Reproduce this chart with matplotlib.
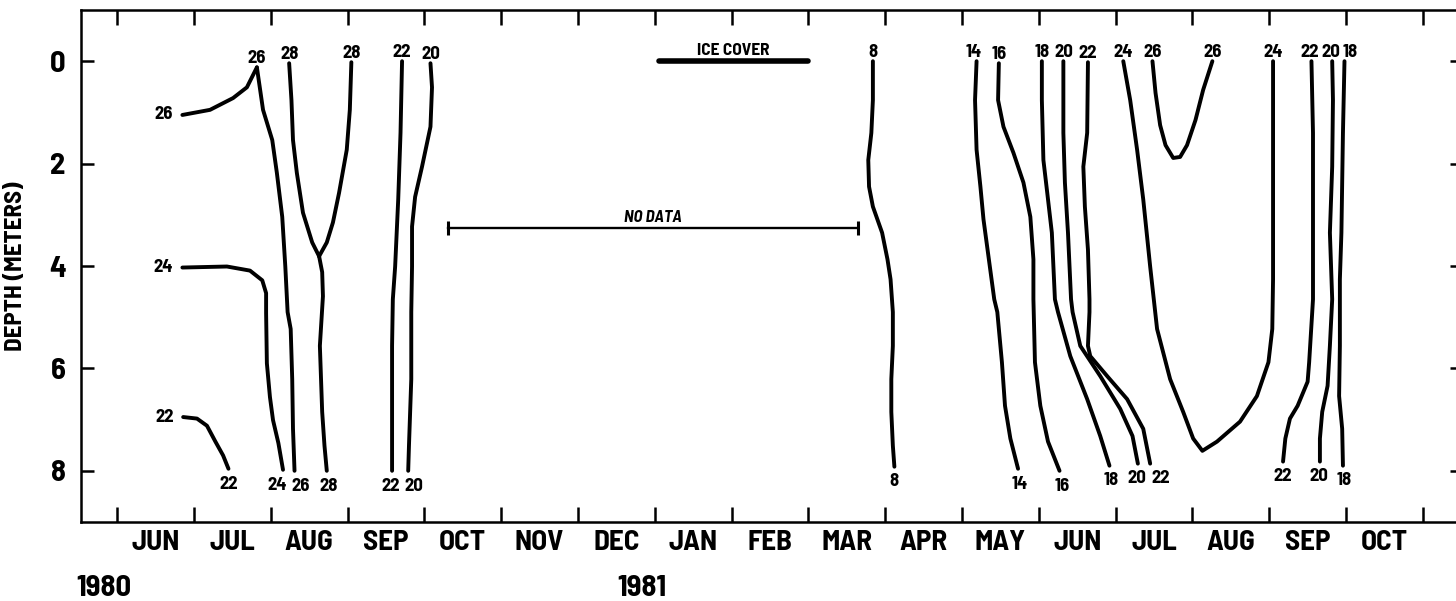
import matplotlib
matplotlib.use('Agg')
import matplotlib.pyplot as plt
import matplotlib.transforms as mtransforms

plt.rcParams['font.family'] = ['Barlow Semi Condensed', 'DejaVu Sans']
plt.rcParams['font.weight'] = 'bold'

# time axis: months after 1 June 1980 (one unit per month), depth in meters
months = ['JUN', 'JUL', 'AUG', 'SEP', 'OCT', 'NOV', 'DEC', 'JAN', 'FEB',
          'MAR', 'APR', 'MAY', 'JUN', 'JUL', 'AUG', 'SEP', 'OCT']
years = ['1980', '1981']
year_start = [0, 7]
depth_ticks = [0, 2, 4, 6, 8]

# ---- 1980 isotherms (deg C) ----
t26a = [0.85, 1.21, 1.51, 1.69, 1.82]
z26a = [1.05, 0.95, 0.72, 0.51, 0.12]
t26b = [1.82, 1.90, 2.02, 2.08, 2.15, 2.19, 2.22, 2.26, 2.28, 2.29, 2.31]
z26b = [0.12, 0.95, 1.54, 2.18, 3.04, 4.01, 4.90, 5.23, 6.21, 7.18, 8.0]
t24a = [0.85, 1.43, 1.73, 1.89, 1.94, 1.94, 1.95, 1.99, 2.03, 2.10, 2.16]
z24a = [4.03, 4.01, 4.09, 4.28, 4.53, 4.92, 5.90, 6.56, 7.01, 7.46, 7.98]
t22a = [0.86, 1.04, 1.17, 1.28, 1.38, 1.45]
z22a = [6.95, 6.98, 7.12, 7.43, 7.70, 7.96]
t28a = [2.24, 2.27, 2.29, 2.34, 2.42, 2.54, 2.63]
z28a = [0.04, 0.76, 1.54, 2.18, 2.96, 3.54, 3.81]
t28b = [3.05, 3.03, 2.99, 2.89, 2.81, 2.73, 2.63]
z28b = [0.02, 0.95, 1.73, 2.57, 3.15, 3.54, 3.81]
t28c = [2.63, 2.67, 2.68, 2.64, 2.67, 2.70, 2.73]
z28c = [3.81, 4.12, 4.59, 5.56, 6.85, 7.51, 8.0]
t22b = [3.71, 3.69, 3.66, 3.62, 3.59, 3.58, 3.58, 3.58]
z22b = [0.0, 1.40, 2.70, 4.01, 4.65, 5.56, 6.85, 8.0]
t20a = [4.08, 4.10, 4.08, 3.97, 3.88, 3.84, 3.84, 3.83, 3.83, 3.80, 3.79]
z20a = [0.04, 0.51, 1.28, 2.06, 2.65, 3.23, 4.01, 4.90, 6.21, 7.51, 8.0]

# ---- 1981 isotherms (deg C) ----
t8 = [9.84, 9.84, 9.82, 9.78, 9.79, 9.84, 9.96, 10.03, 10.07, 10.10, 10.10,
      10.08, 10.08, 10.10, 10.12]
z8 = [0.0, 0.76, 1.40, 1.93, 2.45, 2.84, 3.35, 3.87, 4.26, 4.90, 5.56,
      6.21, 6.85, 7.51, 7.92]
t14 = [11.19, 11.17, 11.19, 11.24, 11.28, 11.35, 11.42, 11.46, 11.52, 11.56, 11.63, 11.73]
z14 = [0.0, 0.76, 1.73, 2.45, 3.09, 3.87, 4.65, 4.90, 5.88, 6.73, 7.37, 7.96]
t16 = [11.48, 11.47, 11.54, 11.67, 11.80, 11.89, 11.93, 11.93, 11.95, 12.02, 12.12, 12.27]
z16 = [0.04, 0.76, 1.28, 1.79, 2.37, 3.04, 3.87, 4.65, 5.88, 6.73, 7.43, 8.0]
t18a = [12.04, 12.04, 12.06, 12.11, 12.17, 12.21, 12.25, 12.41, 12.63, 12.80, 12.92]
z18a = [0.0, 0.76, 1.93, 2.57, 3.35, 4.65, 4.90, 5.76, 6.60, 7.32, 7.90]
t20b = [12.32, 12.32, 12.34, 12.38, 12.42, 12.44, 12.54, 12.80, 13.06, 13.22, 13.29]
z20b = [0.0, 1.40, 2.37, 3.35, 4.65, 4.90, 5.56, 6.15, 6.79, 7.32, 7.86]
t22c = [12.64, 12.63, 12.58, 12.60, 12.64, 12.66, 12.66, 12.64, 12.67, 12.89, 13.15, 13.36, 13.45]
z22c = [0.02, 1.40, 2.06, 2.84, 3.68, 4.65, 4.90, 5.56, 5.76, 6.15, 6.60, 7.18, 7.86]
t24b = [13.10, 13.19, 13.28, 13.36, 13.45, 13.54, 13.71, 13.88, 14.01, 14.13,
        14.32, 14.62, 14.84, 14.99, 15.04, 15.05, 15.05, 15.05]
z24b = [0.0, 0.76, 1.73, 2.70, 4.01, 5.23, 6.21, 6.85, 7.37, 7.61,
        7.43, 7.04, 6.54, 5.88, 5.23, 4.26, 1.40, 0.0]
t26c = [13.48, 13.52, 13.58, 13.65, 13.75, 13.84, 13.93, 14.04, 14.14, 14.26]
z26c = [0.0, 0.62, 1.25, 1.64, 1.89, 1.87, 1.64, 1.15, 0.56, 0.0]
t22d = [15.55, 15.57, 15.57, 15.57, 15.56, 15.52, 15.50, 15.37, 15.27, 15.21, 15.18]
z22d = [0.0, 1.40, 2.70, 4.65, 4.90, 5.88, 6.26, 6.73, 6.98, 7.37, 7.82]
t20c = [15.82, 15.83, 15.82, 15.79, 15.82, 15.79, 15.76, 15.69, 15.66, 15.66]
z20c = [0.0, 0.76, 2.06, 3.35, 4.65, 5.56, 6.34, 6.85, 7.37, 7.82]
t18b = [15.98, 15.96, 15.94, 15.92, 15.92, 15.91, 15.95, 15.96]
z18b = [0.0, 1.40, 3.35, 4.26, 5.56, 6.54, 7.18, 7.90]

ice_cover = [7.05, 9.0]
no_data = [4.31, 9.65]
no_data_depth = 3.25

# (temperature, times, depths, label at start, label at end)
# a label entry is (side, x nudge in points) or None
contours = [
    (26, t26a, z26a, ('left', 0), None),
    (26, t26b, z26b, ('top', 0), ('bottom', 4)),
    (24, t24a, z24a, ('left', 0), ('bottom', -4)),
    (22, t22a, z22a, ('left', 0), ('bottom', 0)),
    (28, t28a, z28a, ('top', 0), None),
    (28, t28b, z28b, ('top', 0), None),
    (28, t28c, z28c, None, ('bottom', 1)),
    (22, t22b, z22b, ('top', 0), ('bottom', -1)),
    (20, t20a, z20a, ('top', 0), ('bottom', 4)),
    (8, t8, z8, ('top', 0), ('bottom', 0)),
    (14, t14, z14, ('top', -2), ('bottom', 1)),
    (16, t16, z16, ('top', 0), ('bottom', 2)),
    (18, t18a, z18a, ('top', 0), ('bottom', 1)),
    (20, t20b, z20b, ('top', 0), ('bottom', -1)),
    (22, t22c, z22c, ('top', 0), ('bottom', 7.5)),
    (24, t24b, z24b, ('top', 0), ('top', 0)),
    (26, t26c, z26c, ('top', 0), ('top', 0)),
    (22, t22d, z22d, ('top', -1), ('bottom', 0)),
    (20, t20c, z20c, ('top', -1), ('bottom', -1)),
    (18, t18b, z18b, ('top', 4), ('bottom', 0.5)),
]

label_offsets = {'top': (0, 6.5, 'center'), 'bottom': (0, -11, 'center'),
                 'left': (-7, 0, 'right')}

fig = plt.figure(figsize=(14.56, 6.01), dpi=100)
ax = fig.add_axes([81 / 1456, 79 / 601, (1462 - 81) / 1456, 512 / 601])

for temp, t, z, start_lab, end_lab in contours:
    ax.plot(t, z, color='black', lw=2.8, solid_capstyle='round',
            solid_joinstyle='round')
    for lab, (x, y) in ((start_lab, (t[0], z[0])), (end_lab, (t[-1], z[-1]))):
        if lab is None:
            continue
        side, nudge = lab
        dx, dy, ha = label_offsets[side]
        ax.annotate(str(temp), (x, y), xytext=(dx + nudge, dy),
                    textcoords='offset points', ha=ha, va='center',
                    fontsize=13.5, fontweight='bold')

# ice cover bar at the surface
ax.plot(ice_cover, [0, 0], color='black', lw=4, solid_capstyle='round')
ax.annotate('ICE COVER', (sum(ice_cover) / 2, 0), xytext=(0, 7.5),
            textcoords='offset points', ha='center', va='center',
            fontsize=12.5, fontweight='bold')

# gap in the record
ax.plot(no_data, [no_data_depth] * 2, color='black', lw=1.7)
ax.plot(no_data, [no_data_depth] * 2, ls='none', marker='|', ms=10, mew=2.2,
        color='black')
ax.annotate('NO DATA', (sum(no_data) / 2, no_data_depth), xytext=(0, 7),
            textcoords='offset points', ha='center', va='center',
            fontsize=12, fontweight='bold', style='italic')

ax.set_xlim(-0.47, 17.51)
ax.set_ylim(9, -1)

ax.set_xticks(range(len(months) + 1))
ax.set_xticklabels([])
ax.set_xticks([i + 0.5 for i in range(len(months))], minor=True)
ax.set_xticklabels(months, minor=True)
ax.tick_params(axis='x', which='major', direction='in', length=11, width=1.8,
               top=True, bottom=True)
ax.tick_params(axis='x', which='minor', length=0, pad=5.5, labelsize=21)

ax.set_yticks(depth_ticks)
ax.set_yticklabels([str(d) for d in depth_ticks])
ax.tick_params(axis='y', direction='in', length=9, width=1.8, left=True,
               right=True, labelsize=22, pad=11)

for side in ['top', 'bottom', 'left', 'right']:
    ax.spines[side].set_linewidth(1.8)

ax.set_ylabel('DEPTH (METERS)', fontsize=18, fontweight='bold')
ax.yaxis.set_label_coords(-0.039, 0.5)

trans = mtransforms.blended_transform_factory(ax.transData, ax.transAxes)
for year, start in zip(years, year_start):
    ax.text(start - 0.17, -0.13, year, transform=trans, ha='center',
            va='center', fontsize=22, fontweight='bold')

plt.savefig('out.png', dpi=100)
